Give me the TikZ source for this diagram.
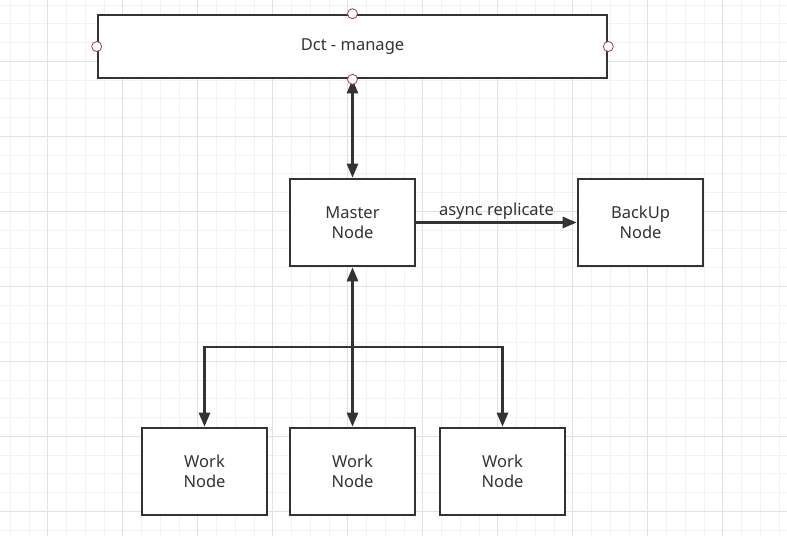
\documentclass[tikz,border=0pt]{standalone}
\usepackage{fontspec}
\setmainfont{Noto Sans}
\usetikzlibrary{arrows.meta}
\definecolor{ink}{HTML}{333333}
\definecolor{gminor}{HTML}{F2F2F2}
\definecolor{gmajor}{HTML}{E2E2E2}
\definecolor{port}{HTML}{A0404A}
\tikzset{
  txt/.style={text=ink, font=\fontsize{16.5}{20.5}\selectfont},
  box/.style={draw=ink, line width=2.6pt, fill=white, minimum width=125pt, minimum height=87pt,
    align=center, txt, inner sep=0pt},
  conn/.style={draw=ink, line width=2.6pt, -{Triangle[width=11pt,length=14pt]}},
  dconn/.style={draw=ink, line width=2.6pt, {Triangle[width=11pt,length=14pt]}-{Triangle[width=11pt,length=14pt]}},
  portdot/.style={circle, draw=port, fill=white, line width=0.8pt, minimum size=10pt, inner sep=0pt},
}
\begin{document}
\begin{tikzpicture}[x=1pt,y=-1pt]
\useasboundingbox (0,0) rectangle (787,536);
\fill[white] (0,0) rectangle (787,536);
\begin{scope}
\clip (0,0) rectangle (787,536);
\foreach \i in {0,...,42} {
  \draw[gminor, line width=0.8pt] ({10.2+18.75*\i},0) -- ({10.2+18.75*\i},536);
}
\foreach \i in {0,...,29} {
  \draw[gminor, line width=0.8pt] (0,{5.05+18.75*\i}) -- (787,{5.05+18.75*\i});
}
\foreach \i in {0,...,10} {
  \draw[gmajor, line width=0.9pt] ({47.7+75*\i},0) -- ({47.7+75*\i},536);
}
\foreach \i in {0,...,7} {
  \draw[gmajor, line width=0.9pt] (0,{61.3+75*\i}) -- (787,{61.3+75*\i});
}
\end{scope}

\node[box, minimum width=509pt, minimum height=63pt] (dct) at (352.5,46.5) {Dct - manage};
\node[box] (m) at (352.5,222.5) {Master\\Node};
\node[box] (b) at (640.5,222.5) {BackUp\\Node};
\node[box] (w1) at (204.5,471.5) {Work\\Node};
\node[box] (w2) at (352.5,471.5) {Work\\Node};
\node[box] (w3) at (502.5,471.5) {Work\\Node};
\coordinate (jn) at (352.5,347);

\draw[dconn] (m.north) -- (dct.south);
\draw[conn] (m.east) -- node[above=-1.5pt, txt] {async replicate} (b.west);
\draw[dconn] (m.south) -- (w2.north);
\draw[conn] (jn) -| (w1.north);
\draw[conn] (jn) -| (w3.north);

\node[portdot] (p1) at (dct.north) {};
\node[portdot] (p2) at (dct.west) {};
\node[portdot] (p3) at (dct.east) {};
\node[portdot] (p4) at (dct.south) {};
\end{tikzpicture}
\end{document}
